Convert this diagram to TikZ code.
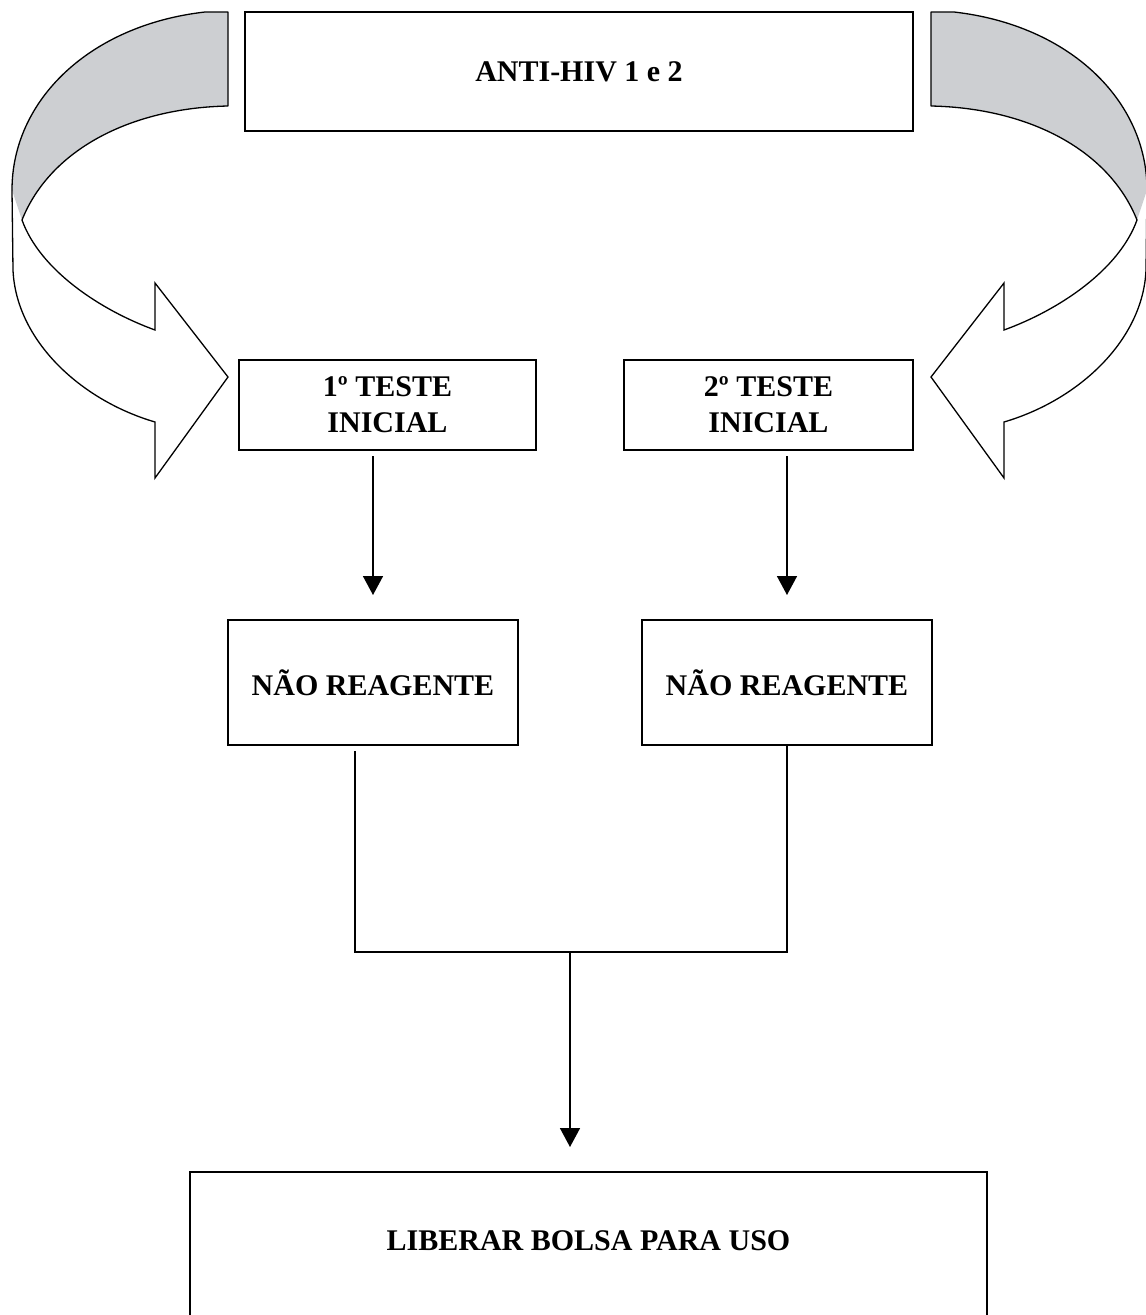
\documentclass[tikz,border=0pt]{standalone}
\usepackage{fontspec}
\setmainfont{Liberation Serif}
\usetikzlibrary{arrows.meta}

\definecolor{ribbongray}{RGB}{205,207,210}

\tikzset{
  box/.style={draw=black, line width=2pt, rectangle, inner sep=0pt,
    font=\bfseries\fontsize{30}{36}\selectfont, align=center},
  lbl/.style={inner sep=0pt, font=\bfseries\fontsize{30}{36}\selectfont, align=center},
  arr/.style={line width=1.6pt, -{Triangle[length=19pt,width=20pt]}},
  link/.style={line width=1.6pt},
  ribbon/.pic={
    % back side of the curled band
    \fill[ribbongray] (228,12) -- (205,12) .. controls (90,25) and (12,100) .. (12,190)
      -- (22,220) .. controls (50,150) and (130,108) .. (228,106) -- cycle;
    \draw[line width=1.3pt, line join=round]
      (22,220) .. controls (50,150) and (130,108) .. (228,106) -- (228,12) -- (205,12)
      .. controls (90,25) and (12,100) .. (12,190);
    % front side ending in the arrow head
    \draw[line width=1.3pt, line join=miter]
      (22,220) .. controls (40,270) and (100,310) .. (155,330) -- (155,283) -- (228,377)
      -- (155,478) -- (155,422) .. controls (80,400) and (16,340) .. (13,270) -- (12,190);
  }
}

\begin{document}
\begin{tikzpicture}[x=1pt, y=-1pt]
  \useasboundingbox (0,0) rectangle (1146,1315);
  \clip (0,0) rectangle (1146,1315);

  % curled arrows on both sides
  \pic at (0,0) {ribbon};
  \pic[xscale=-1] at (1159,0) {ribbon};

  % boxes
  \node[box, minimum width=668pt, minimum height=119pt] (hiv) at (579,71.5) {ANTI-HIV 1 e 2};
  \node[box, minimum width=297pt, minimum height=90pt] (t1) at (387.5,405) {1º TESTE\\INICIAL};
  \node[box, minimum width=289pt, minimum height=90pt] (t2) at (768.5,405) {2º TESTE\\INICIAL};
  \node[box, minimum width=290pt, minimum height=125pt] (n1) at (373,682.5) {NÃO REAGENTE};
  \node[box, minimum width=290pt, minimum height=125pt] (n2) at (787,682.5) {NÃO REAGENTE};
  \node[box, minimum width=797pt, minimum height=170pt] (bolsa) at (588.5,1257) {};
  \node[lbl] (bolsatxt) at (588.5,1241) {LIBERAR BOLSA PARA USO};

  % junction points
  \coordinate (jl) at (355,952);
  \coordinate (jr) at (787,952);
  \coordinate (jm) at (570,952);

  % connectors
  \draw[arr, shorten <=5pt, shorten >=24pt] (t1.south -| n1.center) -- (n1.north);
  \draw[arr, shorten <=5pt, shorten >=24pt] (t2.south -| n2.center) -- (n2.north);
  \draw[link, shorten <=5pt] (n1.south -| jl) -- (jl) -- (jr) -- (n2.south -| jr);
  \draw[arr, shorten >=24pt] (jm) -- (jm |- bolsa.north);
\end{tikzpicture}
\end{document}
